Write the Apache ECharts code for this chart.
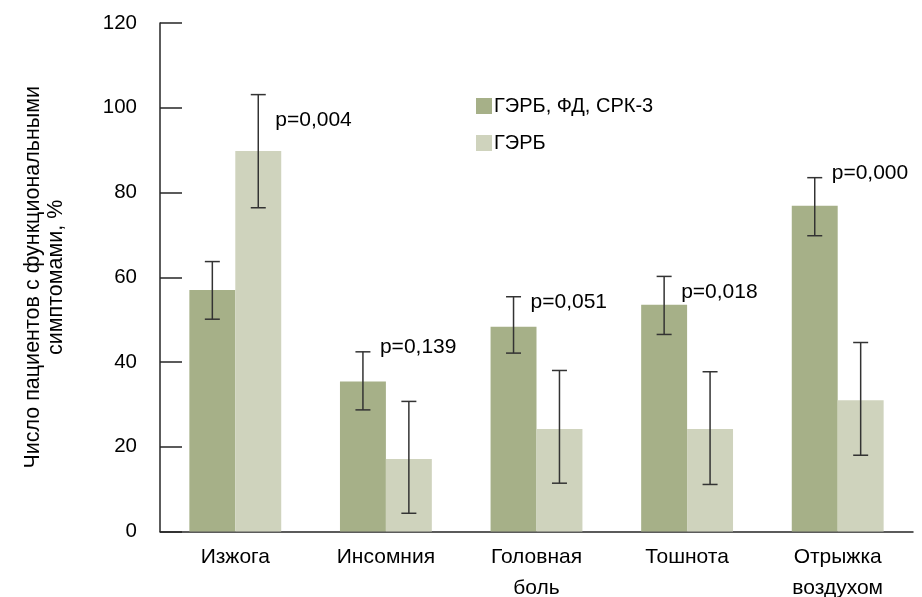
<!DOCTYPE html>
<html>
<head>
<meta charset="utf-8">
<script src="https://cdn.jsdelivr.net/npm/echarts@6/dist/echarts.min.js"></script>
<style>
  html, body { margin: 0; padding: 0; background: #fff; }
  #symptoms-chart { width: 922px; height: 597px; }
</style>
</head>
<body>
<div id="symptoms-chart"></div>
<script>
// категории и значения (%)
var categories = ['Изжога', 'Инсомния', 'Головная\nболь', 'Тошнота', 'Отрыжка\nвоздухом']
var seriesNames = ['ГЭРБ, ФД, СРК-3', 'ГЭРБ']
var combinedValues = [57, 35.4, 48.3, 53.5, 76.9]
var gerdValues = [89.8, 17.1, 24.2, 24.2, 31]
// доверительные интервалы [нижняя, верхняя]
var combinedLow = [50.1, 28.7, 42.1, 46.5, 69.8]
var combinedHigh = [63.7, 42.4, 55.4, 60.2, 83.5]
var gerdLow = [76.4, 4.3, 11.4, 11.1, 18]
var gerdHigh = [103.1, 30.7, 38, 37.7, 44.6]
// подписи p: к какому столбцу (0 - ГЭРБ, ФД, СРК-3, 1 - ГЭРБ) и на какой высоте
var pLabels = ['p=0,004', 'p=0,139', 'p=0,051', 'p=0,018', 'p=0,000']
var pLabelBar = [1, 0, 0, 0, 0]
var pLabelY = [97, 43.5, 54, 56.5, 84.6]
var yTicks = [0, 20, 40, 60, 80, 100, 120]

var BAR_RATIO = 0.305
var FONT = 'Liberation Sans'
var AXIS_COLOR = '#262626'

function errorData(low, high) {
  var res = []
  for (var i = 0; i < low.length; i++) {
    res.push([i, low[i], high[i]])
  }
  return res
}

function errorSeries(name, low, high, side) {
  return {
    type: 'custom',
    name: name + ' err',
    z: 5,
    renderItem: function(params, api) {
      var cat = api.value(0)
      var lo = api.coord([cat, api.value(1)])
      var hi = api.coord([cat, api.value(2)])
      var bw = api.size([1, 0])[0] * BAR_RATIO
      var x = lo[0] + side * bw / 2
      var cap = 7.5
      var style = { stroke: '#333', lineWidth: 1.5 }
      return {
        type: 'group',
        children: [
          { type: 'line', shape: { x1: x, y1: lo[1], x2: x, y2: hi[1] }, style: style },
          { type: 'line', shape: { x1: x - cap, y1: lo[1], x2: x + cap, y2: lo[1] }, style: style },
          { type: 'line', shape: { x1: x - cap, y1: hi[1], x2: x + cap, y2: hi[1] }, style: style }
        ]
      }
    },
    data: errorData(low, high)
  }
}

var labelData = []
for (var i = 0; i < pLabels.length; i++) {
  labelData.push([i, pLabelY[i], pLabelBar[i]])
}

var myChart = echarts.init(document.getElementById('symptoms-chart'))
var option = {
  animation: false,
  textStyle: { fontFamily: FONT },
  grid: { left: 160, right: 9, top: 23, bottom: 65.5, containLabel: false, outerBoundsMode: 'none' },
  legend: {
    orient: 'vertical',
    left: 471,
    top: 91,
    itemWidth: 16,
    itemHeight: 16,
    itemGap: 17,
    icon: 'rect',
    textStyle: { fontSize: 20, color: '#000', fontFamily: FONT, padding: [0, 0, 0, -3] },
    data: seriesNames
  },
  xAxis: {
    type: 'category',
    data: categories,
    axisLine: { lineStyle: { color: AXIS_COLOR, width: 1.5 } },
    axisTick: { inside: true, length: 22, lineStyle: { color: AXIS_COLOR, width: 1.5 } },
    axisLabel: { color: '#000', fontSize: 21, margin: 10, lineHeight: 31, fontFamily: FONT }
  },
  yAxis: {
    type: 'value',
    min: 0,
    max: 120,
    interval: 20,
    name: 'Число пациентов с функциональными\nсимптомами, %',
    nameLocation: 'middle',
    nameRotate: 90,
    nameGap: 92,
    nameTextStyle: { color: '#000', fontSize: 21.5, lineHeight: 23, fontFamily: FONT },
    axisLine: { show: true, lineStyle: { color: AXIS_COLOR, width: 1.5 } },
    axisTick: { show: true, inside: true, length: 22, lineStyle: { color: AXIS_COLOR, width: 1.5 } },
    axisLabel: {
      color: '#000', fontSize: 20.5, margin: 23, fontFamily: FONT,
      formatter: function(v) { return yTicks.indexOf(v) >= 0 ? String(v) : '' }
    },
    splitLine: { show: false }
  },
  series: [
    {
      name: seriesNames[0],
      type: 'bar',
      barWidth: (BAR_RATIO * 100) + '%',
      barGap: '0%',
      itemStyle: { color: '#a6b088' },
      data: combinedValues
    },
    {
      name: seriesNames[1],
      type: 'bar',
      barWidth: (BAR_RATIO * 100) + '%',
      barGap: '0%',
      itemStyle: { color: '#cfd3bd' },
      data: gerdValues
    },
    errorSeries(seriesNames[0], combinedLow, combinedHigh, -1),
    errorSeries(seriesNames[1], gerdLow, gerdHigh, 1),
    {
      type: 'custom',
      name: 'p',
      z: 6,
      renderItem: function(params, api) {
        var cat = api.value(0)
        var pt = api.coord([cat, api.value(1)])
        var bw = api.size([1, 0])[0] * BAR_RATIO
        var side = api.value(2) === 0 ? -1 : 1
        var x = pt[0] + side * bw / 2 + 17
        return {
          type: 'text',
          x: x,
          y: pt[1],
          style: {
            text: pLabels[params.dataIndex],
            fill: '#000',
            font: '21px "' + FONT + '"',
            textAlign: 'left',
            textVerticalAlign: 'middle'
          }
        }
      },
      data: labelData
    }
  ]
}
myChart.setOption(option)
window.addEventListener('resize', function() {
  myChart.resize()
})
</script>
</body>
</html>
